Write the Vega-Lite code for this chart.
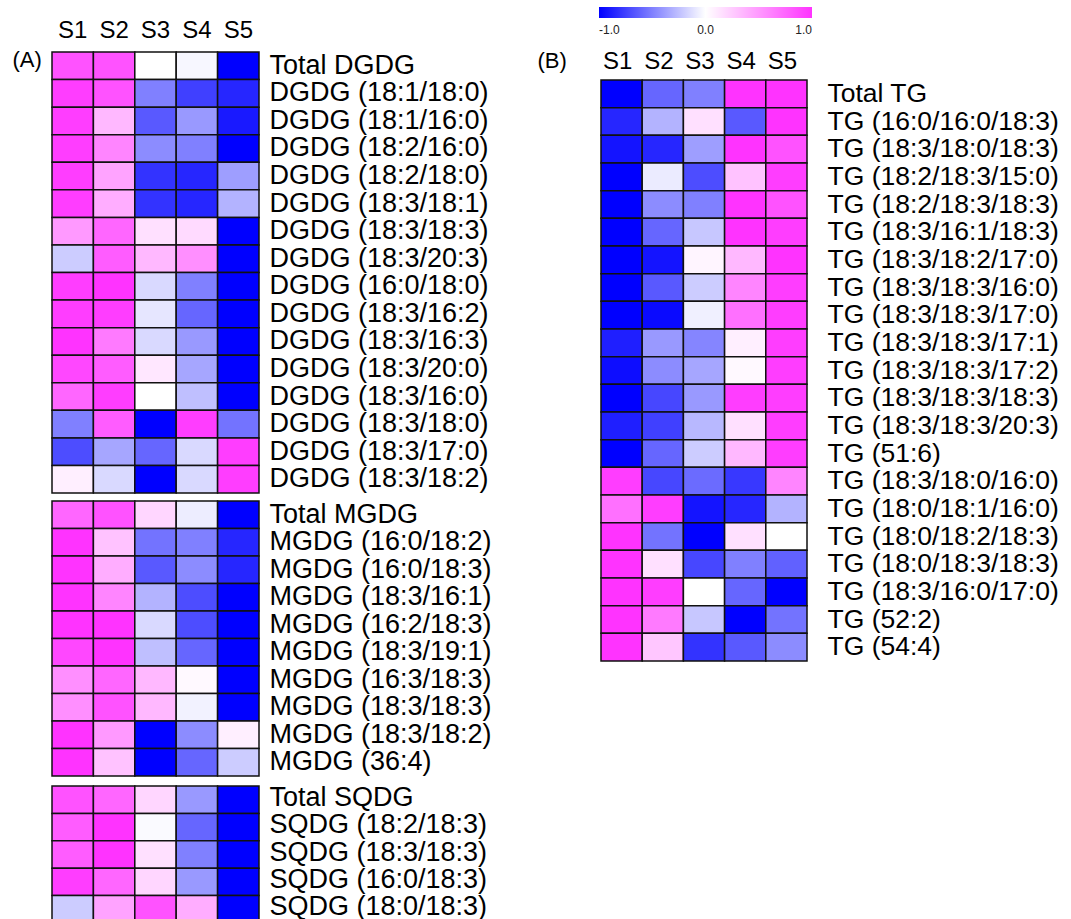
{
  "$schema": "https://vega.github.io/schema/vega-lite/v6.json",
  "padding": {"left": 12, "top": 7, "right": 5, "bottom": 0},
  "config": {
    "view": {"stroke": null},
    "font": "Liberation Sans",
    "axis": {"domain": false, "ticks": false, "tickSize": 0, "grid": false, "labelColor": "#000", "labelFont": "Liberation Sans", "titleFont": "Liberation Sans", "titleColor": "#000", "titleFontWeight": "normal", "labelOverlap": false}
  },
  "datasets": {
    "dgdg": [
      {"lipid": "Total DGDG", "sample": "S1", "value": 0.85}, {"lipid": "Total DGDG", "sample": "S2", "value": 0.85}, {"lipid": "Total DGDG", "sample": "S3", "value": 0.0}, {"lipid": "Total DGDG", "sample": "S4", "value": -0.03}, {"lipid": "Total DGDG", "sample": "S5", "value": -1.0},
      {"lipid": "DGDG (18:1/18:0)", "sample": "S1", "value": 0.95}, {"lipid": "DGDG (18:1/18:0)", "sample": "S2", "value": 0.85}, {"lipid": "DGDG (18:1/18:0)", "sample": "S3", "value": -0.5}, {"lipid": "DGDG (18:1/18:0)", "sample": "S4", "value": -0.75}, {"lipid": "DGDG (18:1/18:0)", "sample": "S5", "value": -0.85},
      {"lipid": "DGDG (18:1/16:0)", "sample": "S1", "value": 0.95}, {"lipid": "DGDG (18:1/16:0)", "sample": "S2", "value": 0.35}, {"lipid": "DGDG (18:1/16:0)", "sample": "S3", "value": -0.65}, {"lipid": "DGDG (18:1/16:0)", "sample": "S4", "value": -0.4}, {"lipid": "DGDG (18:1/16:0)", "sample": "S5", "value": -0.9},
      {"lipid": "DGDG (18:2/16:0)", "sample": "S1", "value": 0.95}, {"lipid": "DGDG (18:2/16:0)", "sample": "S2", "value": 0.6}, {"lipid": "DGDG (18:2/16:0)", "sample": "S3", "value": -0.45}, {"lipid": "DGDG (18:2/16:0)", "sample": "S4", "value": -0.5}, {"lipid": "DGDG (18:2/16:0)", "sample": "S5", "value": -1.0},
      {"lipid": "DGDG (18:2/18:0)", "sample": "S1", "value": 0.95}, {"lipid": "DGDG (18:2/18:0)", "sample": "S2", "value": 0.45}, {"lipid": "DGDG (18:2/18:0)", "sample": "S3", "value": -0.8}, {"lipid": "DGDG (18:2/18:0)", "sample": "S4", "value": -0.85}, {"lipid": "DGDG (18:2/18:0)", "sample": "S5", "value": -0.38},
      {"lipid": "DGDG (18:3/18:1)", "sample": "S1", "value": 0.95}, {"lipid": "DGDG (18:3/18:1)", "sample": "S2", "value": 0.4}, {"lipid": "DGDG (18:3/18:1)", "sample": "S3", "value": -0.8}, {"lipid": "DGDG (18:3/18:1)", "sample": "S4", "value": -0.85}, {"lipid": "DGDG (18:3/18:1)", "sample": "S5", "value": -0.3},
      {"lipid": "DGDG (18:3/18:3)", "sample": "S1", "value": 0.5}, {"lipid": "DGDG (18:3/18:3)", "sample": "S2", "value": 0.75}, {"lipid": "DGDG (18:3/18:3)", "sample": "S3", "value": 0.15}, {"lipid": "DGDG (18:3/18:3)", "sample": "S4", "value": 0.18}, {"lipid": "DGDG (18:3/18:3)", "sample": "S5", "value": -1.0},
      {"lipid": "DGDG (18:3/20:3)", "sample": "S1", "value": -0.2}, {"lipid": "DGDG (18:3/20:3)", "sample": "S2", "value": 0.8}, {"lipid": "DGDG (18:3/20:3)", "sample": "S3", "value": 0.35}, {"lipid": "DGDG (18:3/20:3)", "sample": "S4", "value": 0.55}, {"lipid": "DGDG (18:3/20:3)", "sample": "S5", "value": -1.0},
      {"lipid": "DGDG (16:0/18:0)", "sample": "S1", "value": 0.95}, {"lipid": "DGDG (16:0/18:0)", "sample": "S2", "value": 1.0}, {"lipid": "DGDG (16:0/18:0)", "sample": "S3", "value": -0.15}, {"lipid": "DGDG (16:0/18:0)", "sample": "S4", "value": -0.5}, {"lipid": "DGDG (16:0/18:0)", "sample": "S5", "value": -1.0},
      {"lipid": "DGDG (18:3/16:2)", "sample": "S1", "value": 0.95}, {"lipid": "DGDG (18:3/16:2)", "sample": "S2", "value": 0.95}, {"lipid": "DGDG (18:3/16:2)", "sample": "S3", "value": -0.1}, {"lipid": "DGDG (18:3/16:2)", "sample": "S4", "value": -0.6}, {"lipid": "DGDG (18:3/16:2)", "sample": "S5", "value": -1.0},
      {"lipid": "DGDG (18:3/16:3)", "sample": "S1", "value": 1.0}, {"lipid": "DGDG (18:3/16:3)", "sample": "S2", "value": 0.65}, {"lipid": "DGDG (18:3/16:3)", "sample": "S3", "value": -0.15}, {"lipid": "DGDG (18:3/16:3)", "sample": "S4", "value": -0.4}, {"lipid": "DGDG (18:3/16:3)", "sample": "S5", "value": -1.0},
      {"lipid": "DGDG (18:3/20:0)", "sample": "S1", "value": 0.9}, {"lipid": "DGDG (18:3/20:0)", "sample": "S2", "value": 0.8}, {"lipid": "DGDG (18:3/20:0)", "sample": "S3", "value": 0.12}, {"lipid": "DGDG (18:3/20:0)", "sample": "S4", "value": -0.35}, {"lipid": "DGDG (18:3/20:0)", "sample": "S5", "value": -1.0},
      {"lipid": "DGDG (18:3/16:0)", "sample": "S1", "value": 0.75}, {"lipid": "DGDG (18:3/16:0)", "sample": "S2", "value": 0.95}, {"lipid": "DGDG (18:3/16:0)", "sample": "S3", "value": 0.0}, {"lipid": "DGDG (18:3/16:0)", "sample": "S4", "value": -0.25}, {"lipid": "DGDG (18:3/16:0)", "sample": "S5", "value": -1.0},
      {"lipid": "DGDG (18:3/18:0)", "sample": "S1", "value": -0.5}, {"lipid": "DGDG (18:3/18:0)", "sample": "S2", "value": 0.8}, {"lipid": "DGDG (18:3/18:0)", "sample": "S3", "value": -1.0}, {"lipid": "DGDG (18:3/18:0)", "sample": "S4", "value": 0.95}, {"lipid": "DGDG (18:3/18:0)", "sample": "S5", "value": -0.55},
      {"lipid": "DGDG (18:3/17:0)", "sample": "S1", "value": -0.7}, {"lipid": "DGDG (18:3/17:0)", "sample": "S2", "value": -0.35}, {"lipid": "DGDG (18:3/17:0)", "sample": "S3", "value": -0.6}, {"lipid": "DGDG (18:3/17:0)", "sample": "S4", "value": -0.15}, {"lipid": "DGDG (18:3/17:0)", "sample": "S5", "value": 0.95},
      {"lipid": "DGDG (18:3/18:2)", "sample": "S1", "value": 0.08}, {"lipid": "DGDG (18:3/18:2)", "sample": "S2", "value": -0.15}, {"lipid": "DGDG (18:3/18:2)", "sample": "S3", "value": -1.0}, {"lipid": "DGDG (18:3/18:2)", "sample": "S4", "value": -0.15}, {"lipid": "DGDG (18:3/18:2)", "sample": "S5", "value": 0.95}
    ],
    "mgdg": [
      {"lipid": "Total MGDG", "sample": "S1", "value": 0.75}, {"lipid": "Total MGDG", "sample": "S2", "value": 0.85}, {"lipid": "Total MGDG", "sample": "S3", "value": 0.2}, {"lipid": "Total MGDG", "sample": "S4", "value": -0.07}, {"lipid": "Total MGDG", "sample": "S5", "value": -1.0},
      {"lipid": "MGDG (16:0/18:2)", "sample": "S1", "value": 1.0}, {"lipid": "MGDG (16:0/18:2)", "sample": "S2", "value": 0.3}, {"lipid": "MGDG (16:0/18:2)", "sample": "S3", "value": -0.55}, {"lipid": "MGDG (16:0/18:2)", "sample": "S4", "value": -0.5}, {"lipid": "MGDG (16:0/18:2)", "sample": "S5", "value": -0.85},
      {"lipid": "MGDG (16:0/18:3)", "sample": "S1", "value": 1.0}, {"lipid": "MGDG (16:0/18:3)", "sample": "S2", "value": 0.4}, {"lipid": "MGDG (16:0/18:3)", "sample": "S3", "value": -0.65}, {"lipid": "MGDG (16:0/18:3)", "sample": "S4", "value": -0.45}, {"lipid": "MGDG (16:0/18:3)", "sample": "S5", "value": -0.85},
      {"lipid": "MGDG (18:3/16:1)", "sample": "S1", "value": 1.0}, {"lipid": "MGDG (18:3/16:1)", "sample": "S2", "value": 0.6}, {"lipid": "MGDG (18:3/16:1)", "sample": "S3", "value": -0.3}, {"lipid": "MGDG (18:3/16:1)", "sample": "S4", "value": -0.7}, {"lipid": "MGDG (18:3/16:1)", "sample": "S5", "value": -1.0},
      {"lipid": "MGDG (16:2/18:3)", "sample": "S1", "value": 1.0}, {"lipid": "MGDG (16:2/18:3)", "sample": "S2", "value": 1.0}, {"lipid": "MGDG (16:2/18:3)", "sample": "S3", "value": -0.15}, {"lipid": "MGDG (16:2/18:3)", "sample": "S4", "value": -0.7}, {"lipid": "MGDG (16:2/18:3)", "sample": "S5", "value": -1.0},
      {"lipid": "MGDG (18:3/19:1)", "sample": "S1", "value": 0.9}, {"lipid": "MGDG (18:3/19:1)", "sample": "S2", "value": 1.0}, {"lipid": "MGDG (18:3/19:1)", "sample": "S3", "value": -0.25}, {"lipid": "MGDG (18:3/19:1)", "sample": "S4", "value": -0.6}, {"lipid": "MGDG (18:3/19:1)", "sample": "S5", "value": -1.0},
      {"lipid": "MGDG (16:3/18:3)", "sample": "S1", "value": 0.55}, {"lipid": "MGDG (16:3/18:3)", "sample": "S2", "value": 0.75}, {"lipid": "MGDG (16:3/18:3)", "sample": "S3", "value": 0.35}, {"lipid": "MGDG (16:3/18:3)", "sample": "S4", "value": 0.03}, {"lipid": "MGDG (16:3/18:3)", "sample": "S5", "value": -1.0},
      {"lipid": "MGDG (18:3/18:3)", "sample": "S1", "value": 0.55}, {"lipid": "MGDG (18:3/18:3)", "sample": "S2", "value": 0.85}, {"lipid": "MGDG (18:3/18:3)", "sample": "S3", "value": 0.35}, {"lipid": "MGDG (18:3/18:3)", "sample": "S4", "value": -0.05}, {"lipid": "MGDG (18:3/18:3)", "sample": "S5", "value": -1.0},
      {"lipid": "MGDG (18:3/18:2)", "sample": "S1", "value": 1.0}, {"lipid": "MGDG (18:3/18:2)", "sample": "S2", "value": 0.5}, {"lipid": "MGDG (18:3/18:2)", "sample": "S3", "value": -1.0}, {"lipid": "MGDG (18:3/18:2)", "sample": "S4", "value": -0.45}, {"lipid": "MGDG (18:3/18:2)", "sample": "S5", "value": 0.08},
      {"lipid": "MGDG (36:4)", "sample": "S1", "value": 1.0}, {"lipid": "MGDG (36:4)", "sample": "S2", "value": 0.3}, {"lipid": "MGDG (36:4)", "sample": "S3", "value": -1.0}, {"lipid": "MGDG (36:4)", "sample": "S4", "value": -0.6}, {"lipid": "MGDG (36:4)", "sample": "S5", "value": -0.2}
    ],
    "sqdg": [
      {"lipid": "Total SQDG", "sample": "S1", "value": 0.85}, {"lipid": "Total SQDG", "sample": "S2", "value": 0.75}, {"lipid": "Total SQDG", "sample": "S3", "value": 0.2}, {"lipid": "Total SQDG", "sample": "S4", "value": -0.4}, {"lipid": "Total SQDG", "sample": "S5", "value": -1.0},
      {"lipid": "SQDG (18:2/18:3)", "sample": "S1", "value": 0.8}, {"lipid": "SQDG (18:2/18:3)", "sample": "S2", "value": 1.0}, {"lipid": "SQDG (18:2/18:3)", "sample": "S3", "value": -0.02}, {"lipid": "SQDG (18:2/18:3)", "sample": "S4", "value": -0.6}, {"lipid": "SQDG (18:2/18:3)", "sample": "S5", "value": -1.0},
      {"lipid": "SQDG (18:3/18:3)", "sample": "S1", "value": 0.8}, {"lipid": "SQDG (18:3/18:3)", "sample": "S2", "value": 1.0}, {"lipid": "SQDG (18:3/18:3)", "sample": "S3", "value": 0.15}, {"lipid": "SQDG (18:3/18:3)", "sample": "S4", "value": -0.5}, {"lipid": "SQDG (18:3/18:3)", "sample": "S5", "value": -1.0},
      {"lipid": "SQDG (16:0/18:3)", "sample": "S1", "value": 0.95}, {"lipid": "SQDG (16:0/18:3)", "sample": "S2", "value": 0.75}, {"lipid": "SQDG (16:0/18:3)", "sample": "S3", "value": 0.2}, {"lipid": "SQDG (16:0/18:3)", "sample": "S4", "value": -0.4}, {"lipid": "SQDG (16:0/18:3)", "sample": "S5", "value": -1.0},
      {"lipid": "SQDG (18:0/18:3)", "sample": "S1", "value": -0.2}, {"lipid": "SQDG (18:0/18:3)", "sample": "S2", "value": 0.45}, {"lipid": "SQDG (18:0/18:3)", "sample": "S3", "value": 0.85}, {"lipid": "SQDG (18:0/18:3)", "sample": "S4", "value": 0.4}, {"lipid": "SQDG (18:0/18:3)", "sample": "S5", "value": -1.0}
    ],
    "tg": [
      {"lipid": "Total TG", "sample": "S1", "value": -1.0}, {"lipid": "Total TG", "sample": "S2", "value": -0.6}, {"lipid": "Total TG", "sample": "S3", "value": -0.5}, {"lipid": "Total TG", "sample": "S4", "value": 1.0}, {"lipid": "Total TG", "sample": "S5", "value": 1.0},
      {"lipid": "TG (16:0/16:0/18:3)", "sample": "S1", "value": -0.85}, {"lipid": "TG (16:0/16:0/18:3)", "sample": "S2", "value": -0.3}, {"lipid": "TG (16:0/16:0/18:3)", "sample": "S3", "value": 0.15}, {"lipid": "TG (16:0/16:0/18:3)", "sample": "S4", "value": -0.65}, {"lipid": "TG (16:0/16:0/18:3)", "sample": "S5", "value": 1.0},
      {"lipid": "TG (18:3/18:0/18:3)", "sample": "S1", "value": -0.92}, {"lipid": "TG (18:3/18:0/18:3)", "sample": "S2", "value": -0.85}, {"lipid": "TG (18:3/18:0/18:3)", "sample": "S3", "value": -0.38}, {"lipid": "TG (18:3/18:0/18:3)", "sample": "S4", "value": 1.0}, {"lipid": "TG (18:3/18:0/18:3)", "sample": "S5", "value": 0.85},
      {"lipid": "TG (18:2/18:3/15:0)", "sample": "S1", "value": -1.0}, {"lipid": "TG (18:2/18:3/15:0)", "sample": "S2", "value": -0.08}, {"lipid": "TG (18:2/18:3/15:0)", "sample": "S3", "value": -0.7}, {"lipid": "TG (18:2/18:3/15:0)", "sample": "S4", "value": 0.3}, {"lipid": "TG (18:2/18:3/15:0)", "sample": "S5", "value": 0.95},
      {"lipid": "TG (18:2/18:3/18:3)", "sample": "S1", "value": -1.0}, {"lipid": "TG (18:2/18:3/18:3)", "sample": "S2", "value": -0.45}, {"lipid": "TG (18:2/18:3/18:3)", "sample": "S3", "value": -0.5}, {"lipid": "TG (18:2/18:3/18:3)", "sample": "S4", "value": 1.0}, {"lipid": "TG (18:2/18:3/18:3)", "sample": "S5", "value": 0.85},
      {"lipid": "TG (18:3/16:1/18:3)", "sample": "S1", "value": -1.0}, {"lipid": "TG (18:3/16:1/18:3)", "sample": "S2", "value": -0.6}, {"lipid": "TG (18:3/16:1/18:3)", "sample": "S3", "value": -0.22}, {"lipid": "TG (18:3/16:1/18:3)", "sample": "S4", "value": 1.0}, {"lipid": "TG (18:3/16:1/18:3)", "sample": "S5", "value": 0.95},
      {"lipid": "TG (18:3/18:2/17:0)", "sample": "S1", "value": -1.0}, {"lipid": "TG (18:3/18:2/17:0)", "sample": "S2", "value": -0.92}, {"lipid": "TG (18:3/18:2/17:0)", "sample": "S3", "value": 0.05}, {"lipid": "TG (18:3/18:2/17:0)", "sample": "S4", "value": 0.35}, {"lipid": "TG (18:3/18:2/17:0)", "sample": "S5", "value": 1.0},
      {"lipid": "TG (18:3/18:3/16:0)", "sample": "S1", "value": -1.0}, {"lipid": "TG (18:3/18:3/16:0)", "sample": "S2", "value": -0.65}, {"lipid": "TG (18:3/18:3/16:0)", "sample": "S3", "value": -0.2}, {"lipid": "TG (18:3/18:3/16:0)", "sample": "S4", "value": 0.6}, {"lipid": "TG (18:3/18:3/16:0)", "sample": "S5", "value": 0.95},
      {"lipid": "TG (18:3/18:3/17:0)", "sample": "S1", "value": -1.0}, {"lipid": "TG (18:3/18:3/17:0)", "sample": "S2", "value": -0.96}, {"lipid": "TG (18:3/18:3/17:0)", "sample": "S3", "value": -0.06}, {"lipid": "TG (18:3/18:3/17:0)", "sample": "S4", "value": 0.7}, {"lipid": "TG (18:3/18:3/17:0)", "sample": "S5", "value": 0.95},
      {"lipid": "TG (18:3/18:3/17:1)", "sample": "S1", "value": -0.88}, {"lipid": "TG (18:3/18:3/17:1)", "sample": "S2", "value": -0.4}, {"lipid": "TG (18:3/18:3/17:1)", "sample": "S3", "value": -0.48}, {"lipid": "TG (18:3/18:3/17:1)", "sample": "S4", "value": 0.08}, {"lipid": "TG (18:3/18:3/17:1)", "sample": "S5", "value": 0.95},
      {"lipid": "TG (18:3/18:3/17:2)", "sample": "S1", "value": -0.95}, {"lipid": "TG (18:3/18:3/17:2)", "sample": "S2", "value": -0.45}, {"lipid": "TG (18:3/18:3/17:2)", "sample": "S3", "value": -0.35}, {"lipid": "TG (18:3/18:3/17:2)", "sample": "S4", "value": 0.03}, {"lipid": "TG (18:3/18:3/17:2)", "sample": "S5", "value": 0.95},
      {"lipid": "TG (18:3/18:3/18:3)", "sample": "S1", "value": -1.0}, {"lipid": "TG (18:3/18:3/18:3)", "sample": "S2", "value": -0.72}, {"lipid": "TG (18:3/18:3/18:3)", "sample": "S3", "value": -0.4}, {"lipid": "TG (18:3/18:3/18:3)", "sample": "S4", "value": 0.95}, {"lipid": "TG (18:3/18:3/18:3)", "sample": "S5", "value": 0.95},
      {"lipid": "TG (18:3/18:3/20:3)", "sample": "S1", "value": -0.88}, {"lipid": "TG (18:3/18:3/20:3)", "sample": "S2", "value": -0.75}, {"lipid": "TG (18:3/18:3/20:3)", "sample": "S3", "value": -0.28}, {"lipid": "TG (18:3/18:3/20:3)", "sample": "S4", "value": 0.15}, {"lipid": "TG (18:3/18:3/20:3)", "sample": "S5", "value": 0.95},
      {"lipid": "TG (51:6)", "sample": "S1", "value": -1.0}, {"lipid": "TG (51:6)", "sample": "S2", "value": -0.6}, {"lipid": "TG (51:6)", "sample": "S3", "value": -0.2}, {"lipid": "TG (51:6)", "sample": "S4", "value": 0.35}, {"lipid": "TG (51:6)", "sample": "S5", "value": 0.95},
      {"lipid": "TG (18:3/18:0/16:0)", "sample": "S1", "value": 0.95}, {"lipid": "TG (18:3/18:0/16:0)", "sample": "S2", "value": -0.72}, {"lipid": "TG (18:3/18:0/16:0)", "sample": "S3", "value": -0.58}, {"lipid": "TG (18:3/18:0/16:0)", "sample": "S4", "value": -0.78}, {"lipid": "TG (18:3/18:0/16:0)", "sample": "S5", "value": 0.6},
      {"lipid": "TG (18:0/18:1/16:0)", "sample": "S1", "value": 0.7}, {"lipid": "TG (18:0/18:1/16:0)", "sample": "S2", "value": 0.95}, {"lipid": "TG (18:0/18:1/16:0)", "sample": "S3", "value": -0.92}, {"lipid": "TG (18:0/18:1/16:0)", "sample": "S4", "value": -0.85}, {"lipid": "TG (18:0/18:1/16:0)", "sample": "S5", "value": -0.3},
      {"lipid": "TG (18:0/18:2/18:3)", "sample": "S1", "value": 1.0}, {"lipid": "TG (18:0/18:2/18:3)", "sample": "S2", "value": -0.55}, {"lipid": "TG (18:0/18:2/18:3)", "sample": "S3", "value": -1.0}, {"lipid": "TG (18:0/18:2/18:3)", "sample": "S4", "value": 0.15}, {"lipid": "TG (18:0/18:2/18:3)", "sample": "S5", "value": 0.0},
      {"lipid": "TG (18:0/18:3/18:3)", "sample": "S1", "value": 1.0}, {"lipid": "TG (18:0/18:3/18:3)", "sample": "S2", "value": 0.15}, {"lipid": "TG (18:0/18:3/18:3)", "sample": "S3", "value": -0.72}, {"lipid": "TG (18:0/18:3/18:3)", "sample": "S4", "value": -0.5}, {"lipid": "TG (18:0/18:3/18:3)", "sample": "S5", "value": -0.62},
      {"lipid": "TG (18:3/16:0/17:0)", "sample": "S1", "value": 1.0}, {"lipid": "TG (18:3/16:0/17:0)", "sample": "S2", "value": 0.95}, {"lipid": "TG (18:3/16:0/17:0)", "sample": "S3", "value": 0.0}, {"lipid": "TG (18:3/16:0/17:0)", "sample": "S4", "value": -0.6}, {"lipid": "TG (18:3/16:0/17:0)", "sample": "S5", "value": -1.0},
      {"lipid": "TG (52:2)", "sample": "S1", "value": 1.0}, {"lipid": "TG (52:2)", "sample": "S2", "value": 0.65}, {"lipid": "TG (52:2)", "sample": "S3", "value": -0.22}, {"lipid": "TG (52:2)", "sample": "S4", "value": -1.0}, {"lipid": "TG (52:2)", "sample": "S5", "value": -0.55},
      {"lipid": "TG (54:4)", "sample": "S1", "value": 1.0}, {"lipid": "TG (54:4)", "sample": "S2", "value": 0.28}, {"lipid": "TG (54:4)", "sample": "S3", "value": -0.8}, {"lipid": "TG (54:4)", "sample": "S4", "value": -0.65}, {"lipid": "TG (54:4)", "sample": "S5", "value": -0.45}
    ]
  },
  "resolve": {"scale": {"color": "independent"}, "legend": {"color": "independent"}},
  "spacing": 45,
  "hconcat": [
    {
      "spacing": 6,
      "vconcat": [
        {
          "data": {"name": "dgdg"},
          "width": 207, "height": 441,
          "mark": {"type": "rect", "stroke": "#111", "strokeWidth": 1.5},
          "encoding": {
            "x": {"field": "sample", "type": "nominal", "sort": null, "axis": {"orient": "top", "title": "(A)", "titleX": -40, "titleY": 7, "titleAlign": "left", "titleBaseline": "middle", "titleAngle": 0, "titleFontSize": 22, "labelAngle": 0, "labelFontSize": 24, "labelPadding": 10}},
            "y": {"field": "lipid", "type": "nominal", "sort": null, "axis": {"orient": "right", "title": null, "labelFontSize": 27, "labelPadding": 10, "labelLimit": 400}},
            "color": {"field": "value", "type": "quantitative", "scale": {"domain": [-1, 0, 1], "range": ["#0000ff", "#ffffff", "#ff33ff"], "interpolate": "rgb", "clamp": true}, "legend": null}
          }
        },
        {
          "data": {"name": "mgdg"},
          "width": 207, "height": 275,
          "mark": {"type": "rect", "stroke": "#111", "strokeWidth": 1.5},
          "encoding": {
            "x": {"field": "sample", "type": "nominal", "sort": null, "axis": null},
            "y": {"field": "lipid", "type": "nominal", "sort": null, "axis": {"orient": "right", "title": null, "labelFontSize": 27, "labelPadding": 10, "labelLimit": 400}},
            "color": {"field": "value", "type": "quantitative", "scale": {"domain": [-1, 0, 1], "range": ["#0000ff", "#ffffff", "#ff33ff"], "interpolate": "rgb", "clamp": true}, "legend": null}
          }
        },
        {
          "data": {"name": "sqdg"},
          "width": 207, "height": 137,
          "mark": {"type": "rect", "stroke": "#111", "strokeWidth": 1.5},
          "encoding": {
            "x": {"field": "sample", "type": "nominal", "sort": null, "axis": null},
            "y": {"field": "lipid", "type": "nominal", "sort": null, "axis": {"orient": "right", "title": null, "labelFontSize": 27, "labelPadding": 10, "labelLimit": 400, "labelOffset": -2}},
            "color": {"field": "value", "type": "quantitative", "scale": {"domain": [-1, 0, 1], "range": ["#0000ff", "#ffffff", "#ff33ff"], "interpolate": "rgb", "clamp": true}, "legend": null}
          }
        }
      ]
    },
    {
      "data": {"name": "tg"},
      "width": 206, "height": 609,
      "mark": {"type": "rect", "stroke": "#111", "strokeWidth": 1.5},
      "encoding": {
        "x": {"field": "sample", "type": "nominal", "sort": null, "axis": {"orient": "top", "offset": -28, "title": "(B)", "titleX": -64, "titleY": -20, "titleAlign": "left", "titleBaseline": "middle", "titleAngle": 0, "titleFontSize": 22, "labelAngle": 0, "labelFontSize": 24, "labelPadding": 7, "labelOffset": -4}},
        "y": {"field": "lipid", "type": "nominal", "sort": null, "scale": {"range": [28, 609]}, "axis": {"orient": "right", "title": null, "labelFontSize": 26.5, "labelPadding": 20, "labelLimit": 400}},
        "color": {"field": "value", "type": "quantitative", "scale": {"domain": [-1, 0, 1], "range": ["#0000ff", "#ffffff", "#ff33ff"], "interpolate": "rgb", "clamp": true}, "legend": {"orient": "none", "legendX": -2, "legendY": -45, "direction": "horizontal", "gradientLength": 213, "gradientThickness": 11, "gradientStrokeWidth": 0, "title": null, "values": [-1, 0, 1], "labelExpr": "datum.value < 0 ? '-' + format(-datum.value, '.1f') : format(datum.value, '.1f')", "labelFontSize": 12, "labelOffset": 7, "labelColor": "#222", "labelFont": "Liberation Sans"}}
      }
    }
  ]
}
